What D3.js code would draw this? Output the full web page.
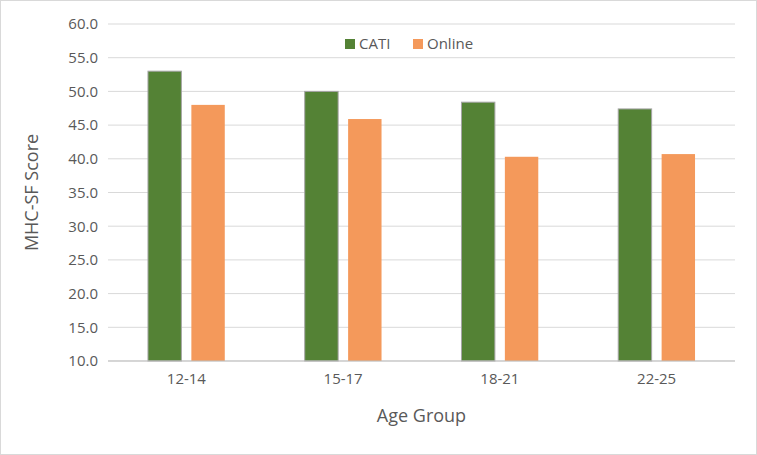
<!DOCTYPE html>
<html><head><meta charset="utf-8">
<script src="https://cdn.jsdelivr.net/npm/d3@7"></script>
<style>body{margin:0;background:#fff}text{font-family:"Open Sans","Noto Sans",sans-serif}</style>
</head><body><svg id="chart" width="757" height="455"></svg>
<script>
var categories = ["12-14", "15-17", "18-21", "22-25"];
var series = ["CATI", "Online"];
var catiValues = [53.0, 50.0, 48.4, 47.4];
var onlineValues = [48.0, 45.9, 40.3, 40.7];
var yTicks = [10, 15, 20, 25, 30, 35, 40, 45, 50, 55, 60];
var colors = {CATI: "#548235", Online: "#F4995B"};

var svg = d3.select("#chart");
svg.append("rect").attr("x", 0.5).attr("y", 0.5).attr("width", 756).attr("height", 454)
  .attr("fill", "#fff").attr("stroke", "#d9d9d9");

var m = {left: 108, right: 22, top: 24, bottom: 94};
var w = 757 - m.left - m.right, h = 455 - m.top - m.bottom;
var g = svg.append("g").attr("transform", "translate(" + m.left + "," + m.top + ")");

var x = d3.scaleBand().domain(categories).range([0, w]);
var x1 = d3.scaleBand().domain(series).range([x.bandwidth() * 0.255, x.bandwidth() * 0.745]).paddingInner(0.23);
var y = d3.scaleLinear().domain([10, 60]).range([h, 0]);

g.selectAll(".grid").data(yTicks).enter().append("line")
  .attr("x1", 0).attr("x2", w).attr("y1", function(d) { return y(d); }).attr("y2", function(d) { return y(d); })
  .attr("stroke", "#d9d9d9");

var rows = categories.map(function(c, i) { return {cat: c, CATI: catiValues[i], Online: onlineValues[i]}; });
var groups = g.selectAll(".grp").data(rows).enter().append("g")
  .attr("transform", function(d) { return "translate(" + x(d.cat) + ",0)"; });
groups.selectAll("rect").data(function(d) { return series.map(function(s) { return {s: s, v: d[s]}; }); })
  .enter().append("rect")
  .attr("x", function(d) { return x1(d.s); }).attr("width", x1.bandwidth())
  .attr("y", function(d) { return y(d.v); }).attr("height", function(d) { return h - y(d.v); })
  .attr("fill", function(d) { return colors[d.s]; })
  .attr("stroke", function(d) { return d.s === "CATI" ? "#a5a5a5" : "none"; });

g.append("line").attr("x1", 0).attr("x2", w).attr("y1", h).attr("y2", h).attr("stroke", "#bfbfbf");

var yAxis = g.append("g").call(d3.axisLeft(y).tickValues(yTicks).tickFormat(d3.format(".1f")).tickSize(0).tickPadding(10));
yAxis.select(".domain").remove();
yAxis.selectAll("text").attr("font-size", 15).attr("fill", "#595959");

var xAxis = g.append("g").attr("transform", "translate(0," + h + ")")
  .call(d3.axisBottom(x).tickSize(0).tickPadding(12));
xAxis.select(".domain").remove();
xAxis.selectAll("text").attr("font-size", 15).attr("fill", "#595959");

svg.append("text").attr("x", m.left + w / 2).attr("y", 422).attr("text-anchor", "middle")
  .attr("font-size", 18).attr("fill", "#595959").text("Age Group");
svg.append("text").attr("transform", "translate(38," + (m.top + h / 2) + ") rotate(-90)")
  .attr("text-anchor", "middle").attr("font-size", 18).attr("fill", "#595959").text("MHC-SF Score");

var legend = svg.append("g").attr("transform", "translate(345,44)");
var lx = [0, 68];
series.forEach(function(s, i) {
  legend.append("rect").attr("x", lx[i]).attr("y", -5).attr("width", 10).attr("height", 10).attr("fill", colors[s]);
  legend.append("text").attr("x", lx[i] + 14).attr("y", 5).attr("font-size", 15).attr("fill", "#595959").text(s);
});
</script></body></html>
